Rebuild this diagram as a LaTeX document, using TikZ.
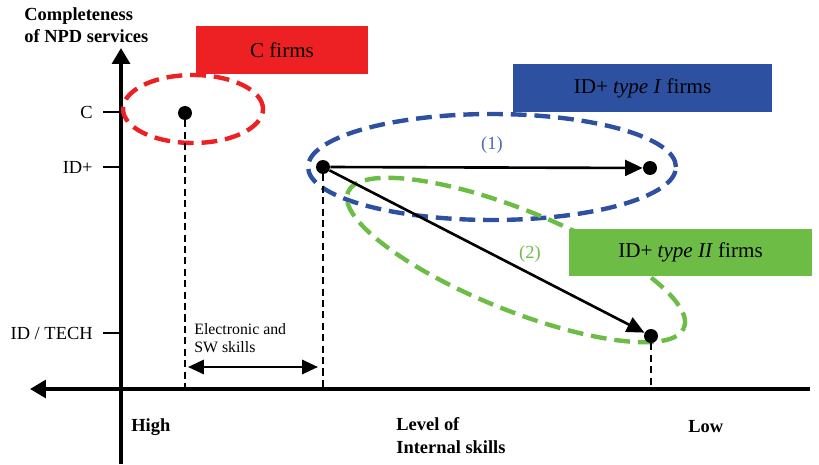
\documentclass[tikz,border=0pt]{standalone}
\usepackage{fontspec}
\setmainfont{Liberation Serif}
\usepackage{tikz}
\usetikzlibrary{shapes.geometric, arrows.meta, positioning}

\definecolor{cfirmred}{RGB}{237,32,36}
\definecolor{cfirmblue}{RGB}{46,80,160}
\definecolor{cfirmgreen}{RGB}{108,188,70}

\begin{document}
\begin{tikzpicture}[
    x=0.02cm, y=0.02cm,
    axis/.style={line width=2.1pt},
    ticks/.style={line width=1pt},
    ticklabel/.style={anchor=east, inner sep=0, font=\fontsize{10.5}{12}\selectfont},
    firmbox/.style={rectangle, minimum height=0.96cm, inner sep=0, font=\fontsize{12}{14}\selectfont},
    group/.style={draw, ellipse, dash pattern=on 9pt off 4.5pt, line width=2.5pt, inner sep=0},
    dot/.style={circle, fill, inner sep=0, minimum size=0.28cm},
    guide/.style={line width=1.3pt, dash pattern=on 4pt off 2.5pt},
    move/.style={line width=1.5pt, -{Triangle[length=10pt,width=9pt]}},
    axlabel/.style={align=left, inner sep=0, font=\bfseries\fontsize{10.5}{13}\selectfont}
]
\useasboundingbox (0,0) rectangle (819,464);

% axes
\coordinate (O) at (121,75);
\coordinate (ytop) at (121,416);
\coordinate (ybot) at (121,0);
\coordinate (xleft) at (30,75);
\coordinate (xright) at (810,75);
\draw[axis, -{Triangle[length=9pt,width=10pt]}] (ybot) -- (ytop);
\draw[axis, -{Triangle[length=9pt,width=10pt]}] (xright) -- (xleft);

% ticks on the vertical axis
\foreach \name/\lab/\yy in {tC/{C}/352, tID/{ID+}/297, tTECH/{ID / TECH}/131}{
  \coordinate (\name) at (121,\yy);
  \node[ticklabel] (\name-lab) at (93,\yy) {\lab};
  \draw[ticks] (\name) -- ++(-18,0);
}

\node[axlabel, anchor=north west] (ytitle) at (24,457) {Completeness\\of NPD services};
\node[axlabel, anchor=west] (high) at (131,37) {High};
\node[axlabel, anchor=west] (low) at (688,37) {Low};
\node[axlabel, anchor=north west] (xtitle) at (396,47) {Level of\\Internal skills};

% groups
\node[group, cfirmred, minimum width=2.8cm, minimum height=1.36cm] (gC) at (193,355) {};
\node[group, cfirmblue, minimum width=7.36cm, minimum height=2.12cm] (gI) at (492,297) {};
\node[group, cfirmgreen, minimum width=7.25cm, minimum height=2.0cm, rotate=-22] (gII) at (516,204) {};

% firm boxes
\node[firmbox, fill=cfirmred, minimum width=3.44cm] (boxC) at (282,414) {C firms};
\node[firmbox, fill=cfirmblue, minimum width=5.18cm] (boxI) at (642.5,376) {ID+ \textit{type I} firms};
\node[firmbox, fill=cfirmgreen, minimum width=4.86cm, minimum height=0.94cm] (boxII) at (690.5,211.5) {ID+ \textit{type II} firms};

% positions
\node[dot] (pC) at (185,351) {};
\node[dot] (pA) at (323,297) {};
\node[dot] (pB) at (650,296) {};
\node[dot] (pD) at (651,128) {};

\draw[guide] (pC) -- (pC |- O);
\draw[guide] (pA) -- (pA |- O);
\draw[guide] (pD) -- (pD |- O);

\draw[move] (pA) -- (pB);
\draw[move] (pA) -- (pD);

\node[text=cfirmblue!85!white, font=\fontsize{10.5}{12}\selectfont] (one) at (492,319) {(1)};
\node[text=cfirmgreen, font=\fontsize{10.5}{12}\selectfont] (two) at (530,210) {(2)};

% skills gap
\coordinate (swL) at (188,97);
\coordinate (swR) at (318,97);
\draw[line width=1.5pt, {Triangle[length=9pt,width=8pt]}-{Triangle[length=9pt,width=8pt]}] (swL) -- (swR);
\node[anchor=west, align=left, inner sep=0, font=\fontsize{9}{10}\selectfont] (swlab) at (194,126) {Electronic and\\SW skills};
\end{tikzpicture}
\end{document}
